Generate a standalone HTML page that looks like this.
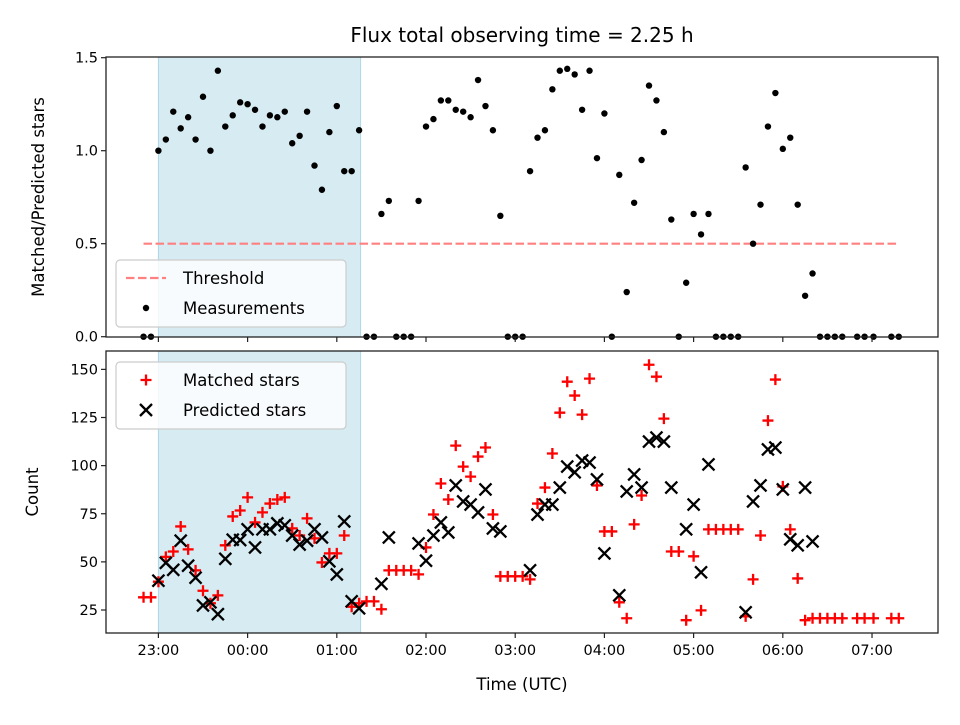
<!DOCTYPE html>
<html><head><meta charset="utf-8"><style>
html,body{margin:0;padding:0;background:#fff;}
svg text{font-family:"DejaVu Sans","Liberation Sans",sans-serif;fill:#000;}
</style></head><body>
<svg id="chart" width="960" height="720" viewBox="0 0 960 720" xmlns="http://www.w3.org/2000/svg">
<rect width="960" height="720" fill="#fff"/>
<text x="522" y="42" font-size="20" text-anchor="middle">Flux total observing time = 2.25 h</text>
<g id="gtop"></g><g id="gbot"></g>
<text transform="translate(44,197) rotate(-90)" font-size="16.5" text-anchor="middle">Matched/Predicted stars</text>
<text transform="translate(38,492) rotate(-90)" font-size="16.5" text-anchor="middle">Count</text>
<text x="522" y="690" font-size="16.5" text-anchor="middle">Time (UTC)</text>
</svg>
<script>
// times in minutes after 23:00 UTC
const times = [-10,-5,0,5,10,15,20,25,30,35,40,45,50,55,60,65,70,75,80,85,90,95,100,105,110,115,120,125,130,135,140,145,150,155,160,165,170,175,180,185,190,195,200,205,210,215,220,225,230,235,240,245,250,255,260,265,270,275,280,285,290,295,300,305,310,315,320,325,330,335,340,345,350,355,360,365,370,375,380,385,390,395,400,405,410,415,420,425,430,435,440,445,450,455,460,470,475,481,493,498];
const ratio = [0,0,1.00,1.06,1.21,1.12,1.18,1.06,1.29,1.00,1.43,1.13,1.19,1.26,1.25,1.22,1.13,1.19,1.18,1.21,1.04,1.08,1.21,0.92,0.79,1.10,1.24,0.89,0.89,1.11,0,0,0.66,0.73,0,0,0,0.73,1.13,1.17,1.27,1.27,1.22,1.21,1.18,1.38,1.24,1.11,0.65,0,0,0,0.89,1.07,1.11,1.33,1.43,1.44,1.41,1.22,1.43,0.96,1.20,0,0.87,0.24,0.72,0.95,1.35,1.27,1.10,0.63,0,0.29,0.66,0.55,0.66,0,0,0,0,0.91,0.50,0.71,1.13,1.31,1.01,1.07,0.71,0.22,0.34,0,0,0,0,0,0,0,0,0];
const matched = [31.6,31.6,39.7,52.6,55.4,68.4,56.5,45.6,35,28.5,32.6,58.6,73.6,76.7,83.5,70.5,75.7,80.3,82.4,83.5,67.4,63.7,72.6,62.2,49.7,54.4,54.4,63.7,26.7,28.5,29.5,29.5,25.4,45.6,45.6,45.6,45.6,43.5,57.5,74.6,90.7,82.4,110.4,99.5,94.3,104.7,109.4,74.6,42.5,42.5,42.5,42.5,40.9,80.3,88.6,106.3,127.5,143.6,136.4,126.5,145.2,89.7,65.8,65.8,29,20.7,69.5,84.5,152.4,146.2,124.4,55.4,55.4,19.7,52.9,24.8,66.9,66.9,66.9,66.9,66.9,21.7,40.9,63.7,123.4,144.7,89.2,66.9,41.4,19.7,20.7,20.7,20.7,20.7,20.7,20.7,20.7,20.7,20.7,20.7];
const predicted = [null,null,40.2,49.5,45.9,61,48,41.8,27.4,29,22.8,51.6,61.5,61.3,66.9,57.5,66.9,66.9,70,69,63.7,59,61,66.9,62.7,50.3,43.5,71,29.5,25.9,null,null,38.6,62.7,null,null,null,59.6,50.6,63.7,70.5,65.3,89.7,81.4,79.8,75.7,87.6,67.4,65.8,null,null,null,45.6,74.6,79.8,79.8,88.6,99.5,96.5,102.6,101.6,92.8,54.4,null,32.6,86.6,95.4,88.6,112.5,114.6,112.5,88.6,null,66.9,79.8,44.6,100.6,null,null,null,null,23.8,81.4,89.7,108.4,109.4,87.6,61.7,58.6,88.6,60.6,null,null,null,null,null,null,null,null,null];
const xTickLabels = ["23:00","00:00","01:00","02:00","03:00","04:00","05:00","06:00","07:00"];
const xTickMinutes = [0,60,120,180,240,300,360,420,480];
const topYTicks = [0,0.5,1.0,1.5];
const topYLabels = ["0.0","0.5","1.0","1.5"];
const botYTicks = [25,50,75,100,125,150];
const threshold = 0.5;
const thresholdRange = [-10,498];
const shadeRange = [0,136];

const NS="http://www.w3.org/2000/svg";
const X0=158.4, PXM=1.4867, L=106, R=938;
const T_TOP=57, T_BOT=337, B_TOP=351, B_BOT=633;
const xs=t=>X0+t*PXM;
const yTop=v=>336.7-186*v;
const yBot=v=>610-(v-25)*1.925;
function mk(tag,attrs,parent){const e=document.createElementNS(NS,tag);for(const k in attrs)e.setAttribute(k,attrs[k]);parent.appendChild(e);return e;}
const gTop=document.getElementById('gtop'), gBot=document.getElementById('gbot');

function frame(g,y0,y1,name){
  const s=mk('rect',{x:xs(shadeRange[0]),y:y0,width:xs(shadeRange[1])-xs(shadeRange[0]),height:y1-y0,fill:'#add8e6','fill-opacity':0.5,stroke:'#add8e6','stroke-width':1},g);
  
  
}
frame(gTop,T_TOP,T_BOT,'top');
frame(gBot,B_TOP,B_BOT,'bottom');

const th=mk('line',{x1:xs(thresholdRange[0]),x2:xs(thresholdRange[1]),y1:yTop(threshold),y2:yTop(threshold),stroke:'#ff8080','stroke-width':2.2,'stroke-dasharray':'8.5,3.5'},gTop);



times.forEach((t,i)=>{
  if(ratio[i]==null)return;
  const c=mk('circle',{cx:xs(t),cy:yTop(ratio[i]),r:3.2,fill:'#000'},gTop);
  
  
});
times.forEach((t,i)=>{
  if(matched[i]==null)return;
  const x=xs(t),y=yBot(matched[i]);
  const p=mk('path',{d:`M${x-5.5},${y}H${x+5.5}M${x},${y-5.5}V${y+5.5}`,stroke:'#f00','stroke-width':2.3},gBot);
  
  
});
times.forEach((t,i)=>{
  if(predicted[i]==null)return;
  const x=xs(t),y=yBot(predicted[i]);
  const p=mk('path',{d:`M${x-6},${y-6}L${x+6},${y+6}M${x-6},${y+6}L${x+6},${y-6}`,stroke:'#000','stroke-width':2.3},gBot);
  
  
});

[[gTop,T_TOP,T_BOT,'top'],[gBot,B_TOP,B_BOT,'bottom']].forEach(([g,y0,y1,n])=>{
  const r=mk('rect',{x:L,y:y0,width:R-L,height:y1-y0,fill:'none',stroke:'#222','stroke-width':1.3},g);
  
  
  xTickMinutes.forEach((m,i)=>{
    const tk=mk('line',{x1:xs(m),x2:xs(m),y1:y1,y2:y1+5,stroke:'#222','stroke-width':1.2},g);
    
    
    if(n==='bottom'){
      const tx=mk('text',{x:xs(m),y:y1+22,'font-size':14.5,'text-anchor':'middle'},g);
      tx.textContent=xTickLabels[i];
      
      
    }
  });
});
topYTicks.forEach((v,i)=>{
  const y=yTop(v);
  const tk=mk('line',{x1:L-5,x2:L,y1:y,y2:y,stroke:'#222','stroke-width':1.2},gTop);
  
  
  const tx=mk('text',{x:L-8,y:y+5,'font-size':14.5,'text-anchor':'end'},gTop);
  tx.textContent=topYLabels[i];
  
  
});
botYTicks.forEach(v=>{
  const y=yBot(v);
  const tk=mk('line',{x1:L-5,x2:L,y1:y,y2:y,stroke:'#222','stroke-width':1.2},gBot);
  
  
  const tx=mk('text',{x:L-8,y:y+5,'font-size':14.5,'text-anchor':'end'},gBot);
  tx.textContent=String(v);
  
  
});

function legend(g,y0,name,items){
  const b=mk('rect',{x:116,y:y0,width:230,height:67,rx:4,fill:'#fff','fill-opacity':0.8,stroke:'#ccc','stroke-width':1.2},g);
  
  
  items.forEach((it,i)=>{
    const y=y0+18+i*30;
    it.draw(g,146,y);
    const t=mk('text',{x:183,y:y+6,'font-size':16.5},g);
    t.textContent=it.label;
    
    
  });
}
legend(gTop,260,'top-legend',[
  {label:'Threshold',draw:(g,x,y)=>{const l=mk('line',{x1:x-20,x2:x+20,y1:y,y2:y,stroke:'#ff8080','stroke-width':2.2,'stroke-dasharray':'8.5,3.5'},g);}},
  {label:'Measurements',draw:(g,x,y)=>{const c=mk('circle',{cx:x,cy:y,r:3.2,fill:'#000'},g);}}
]);
legend(gBot,362,'bottom-legend',[
  {label:'Matched stars',draw:(g,x,y)=>{const p=mk('path',{d:`M${x-5.5},${y}H${x+5.5}M${x},${y-5.5}V${y+5.5}`,stroke:'#f00','stroke-width':2.3},g);}},
  {label:'Predicted stars',draw:(g,x,y)=>{const p=mk('path',{d:`M${x-6},${y-6}L${x+6},${y+6}M${x-6},${y+6}L${x+6},${y-6}`,stroke:'#000','stroke-width':2.3},g);}}
]);
</script>
</body></html>
